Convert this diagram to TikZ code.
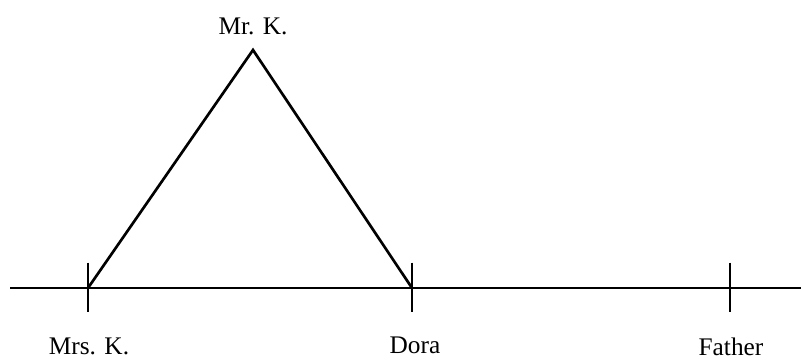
\documentclass[tikz,border=0pt]{standalone}
\usepackage{fontspec}
\setmainfont{Liberation Serif}
\usetikzlibrary{positioning}

\begin{document}
\begin{tikzpicture}[x=0.75pt, y=-0.75pt,
      edge/.style={line width=2pt, black, line join=miter},
      tick/.style={line width=2pt, black},
      lbl/.style={font=\fontsize{19}{22}\selectfont, anchor=base, inner sep=0pt}]
      \useasboundingbox (0,0) rectangle (801,360);
      % points on the line
      \coordinate (linestart) at (10,288);
      \coordinate (lineend)   at (801,288);
      \coordinate (mrsk)      at (88,288);
      \coordinate (dora)      at (412,288);
      \coordinate (father)    at (730,288);
      \coordinate (mrk)       at (253,50);
      \draw[edge] (linestart) -- (lineend);
      \foreach \p in {mrsk,dora,father}
        \draw[tick] ([yshift=19pt]\p) -- ([yshift=-18pt]\p);
      \draw[edge] (mrsk) -- (mrk) -- (dora);
      % labels
      \node[lbl] (mrklbl)    at (253,35)  {Mr. K.};
      \node[lbl] (mrsklbl)   at (89,354)  {Mrs. K.};
      \node[lbl] (doralbl)   at (415,353) {Dora};
      \node[lbl] (fatherlbl) at (731,355) {Father};
    \end{tikzpicture}
\end{document}
